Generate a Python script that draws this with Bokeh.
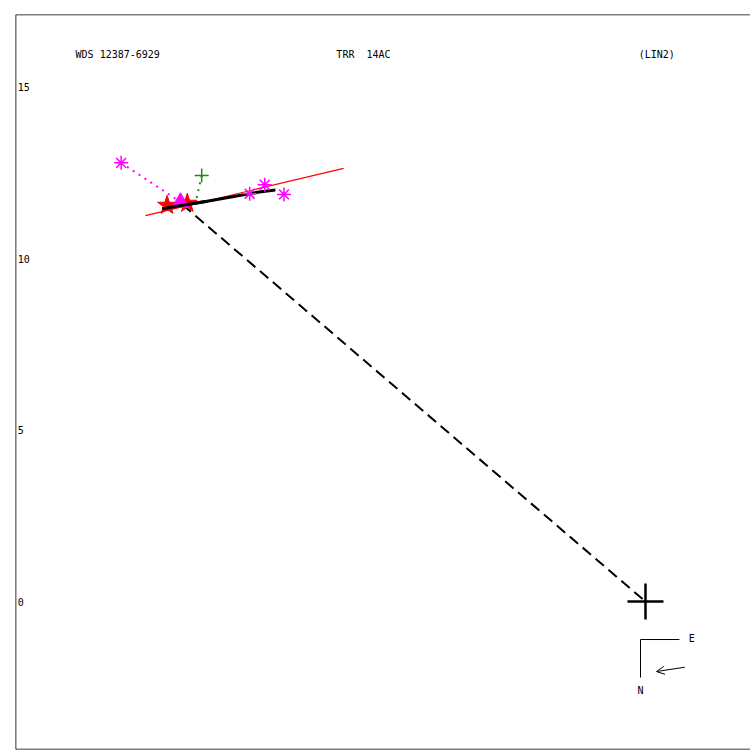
from bokeh.plotting import figure
from bokeh.models import Range1d, Arrow, OpenHead, Span
from bokeh.core.properties import value
from bokeh.embed import file_html
from bokeh.resources import INLINE

# ---- data (arcsec) ----
header_text = ["WDS 12387-6929", "TRR\u00a0\u00a014AC", "(LIN2)"]
header_x = [-16.63, -9.02, -0.20]
header_y = [15.96, 15.96, 15.96]

ytick_values = [15, 10, 5, 0]
ytick_labels = ["15", "10", "5", "0"]

# orbit arc
orbit_x = [-14.10, -13.51, -12.79, -12.01, -11.33, -10.80]
orbit_y = [11.46, 11.56, 11.68, 11.82, 11.94, 12.01]

# linear fit line
fit_x = [-14.59, -8.81]
fit_y = [11.26, 12.64]

# line from current position to primary
node_x = [-13.51, 0.0]
node_y = [11.58, 0.0]

# ephemeris positions
star_x = [-13.96, -13.37]
star_y = [11.56, 11.62]

tri_x = [-13.57]
tri_y = [11.64]

# observations
obs_ast_x = [-15.30, -11.55, -11.11, -10.55]
obs_ast_y = [12.80, 11.90, 12.16, 11.88]

obs_plus_x = [-12.95]
obs_plus_y = [12.43]

# residual links
res_mag_x = [-15.30, -13.63]
res_mag_y = [12.80, 11.70]
res_grn_x = [-12.95, -13.10]
res_grn_y = [12.43, 11.76]

# compass
comp_x = [0.99, -0.146, -0.146]
comp_y = [-1.109, -1.109, -2.218]
comp_lbl = ["E", "N"]
comp_lbl_x = [1.26, -0.23]
comp_lbl_y = [-1.08, -2.60]
arrow_from = (1.147, -1.917)
arrow_to = (0.321, -2.043)

X0, X1 = -18.383, 3.064
Y0, Y1 = -4.318, 17.129

FONT = value("DejaVu Sans Mono")

p = figure(width=750, height=750, output_backend="svg", toolbar_location=None,
           x_axis_type=None, y_axis_type=None,
           x_range=Range1d(X0, X1), y_range=Range1d(Y0, Y1),
           min_border_left=15, min_border_top=14, min_border_right=0, min_border_bottom=1)
p.xgrid.visible = False
p.ygrid.visible = False
p.outline_line_color = None
p.background_fill_color = "white"
p.border_fill_color = "white"

# frame on left, top and bottom only (right edge lies outside the picture)
p.add_layout(Span(location=X0, dimension="height", line_color="black", line_width=1.6))
p.add_layout(Span(location=Y1, dimension="width", line_color="black", line_width=1.6))
p.add_layout(Span(location=Y0, dimension="width", line_color="black", line_width=1.6))

# header
p.text(header_x, header_y, text=header_text, text_font=FONT, text_font_size="10px",
       text_baseline="middle", text_align="left", text_color="black")
# y tick labels
p.text([-18.32] * len(ytick_values), ytick_values, text=ytick_labels, text_font=FONT,
       text_font_size="10px", text_baseline="middle", text_align="left", text_color="black")

# fit line
p.line(fit_x, fit_y, line_color="#ff0000", line_width=1.2)
# dashed line to primary
p.line(node_x, node_y, line_color="black", line_width=2, line_dash="11 6")
# orbit arc
p.line(orbit_x, orbit_y, line_color="black", line_width=3)

# residuals
p.line(res_mag_x, res_mag_y, line_color="#ff00ff", line_width=2, line_dash="2 5")
p.line(res_grn_x, res_grn_y, line_color="#109010", line_width=2, line_dash="2 5")

# stars and triangle
p.scatter(star_x, star_y, marker="star", size=20, fill_color="#ff0000", line_color="#ff0000")
p.scatter(tri_x, tri_y, marker="triangle", size=17, fill_color="#ff00ff", line_color="#ff00ff")
p.line(orbit_x[:3], orbit_y[:3], line_color="black", line_width=3)

# observations
p.scatter(obs_ast_x, obs_ast_y, marker="asterisk", size=14, line_color="#ff00ff", line_width=1.5)
p.scatter(obs_plus_x, obs_plus_y, marker="cross", size=14, line_color="#109010", line_width=1.5)

# primary
p.scatter([0.0], [0.0], marker="cross", size=36, line_color="black", line_width=2.5)

# compass
p.line(comp_x, comp_y, line_color="black", line_width=1)
p.text(comp_lbl_x, comp_lbl_y, text=comp_lbl, text_font=FONT, text_font_size="10px",
       text_baseline="middle", text_align="left", text_color="black")
p.add_layout(Arrow(end=OpenHead(size=8, line_width=1, line_color="black"),
                   x_start=arrow_from[0], y_start=arrow_from[1],
                   x_end=arrow_to[0], y_end=arrow_to[1],
                   line_color="black", line_width=1))

open("out.html", "w").write(file_html(p, INLINE))
